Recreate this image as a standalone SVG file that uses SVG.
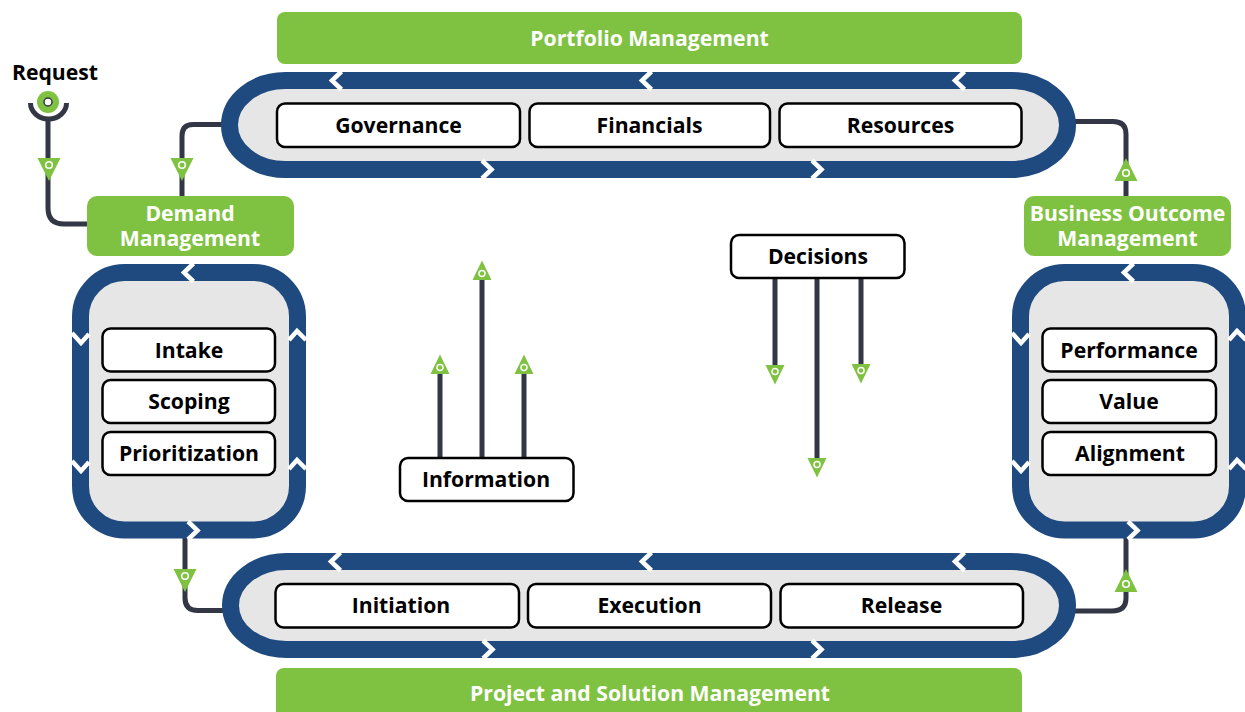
<svg xmlns="http://www.w3.org/2000/svg" width="1245" height="712" viewBox="0 0 1245 712">
<style>
text{font-family:"Open Sans","Noto Sans","Liberation Sans",sans-serif;font-weight:700;font-size:21.200px;text-anchor:middle}
.w{fill:#fff}
.k{fill:#000}
.g{fill:#7fc241}
.ring{fill:#e6e6e6;stroke:#1f4a7f;stroke-width:17}
.box{fill:#fff;stroke:#000;stroke-width:2.500}
.c{fill:none;stroke:#333644;stroke-width:5}
.link{fill:none;stroke:#77787f;stroke-width:5}
.chev{fill:none;stroke:#fff;stroke-width:4.500}
</style>
<defs>
<g id="dn"><path d="M-11.500 0H11.500L0 23Z" fill="#7fc241"/><circle cx="0" cy="7" r="3.300" fill="none" stroke="#fff" stroke-width="1.600"/></g>
<g id="up"><path d="M-11.500 0H11.500L0 -23Z" fill="#7fc241"/><circle cx="0" cy="-8" r="3.300" fill="none" stroke="#fff" stroke-width="1.600"/></g>
<g id="dns"><path d="M-9.500 0H9.500L0 19.500Z" fill="#7fc241"/><circle cx="0" cy="6.500" r="3" fill="none" stroke="#fff" stroke-width="1.500"/></g>
<g id="ups"><path d="M-9.500 0H9.500L0 -19.500Z" fill="#7fc241"/><circle cx="0" cy="-6.500" r="3" fill="none" stroke="#fff" stroke-width="1.500"/></g>
<path id="chL" d="M10.500 -0.500L1 8.500L10.500 17.500" class="chev"/>
<path id="chR" d="M0 -0.500L9.500 8.500L0 17.500" class="chev"/>
<path id="chD" d="M0 0L9 10L17 1" class="chev"/>
<path id="chU" d="M0 11L8 2L17 11" class="chev"/>
</defs>
<g id="connectors">
<path class="c" d="M48 118V208Q48 224 64 224H88"/>
<path class="c" d="M222 124.500H193Q182 124.500 182 136V197"/>
<path class="c" d="M185 538V598Q185 610.500 198 610.500H223"/>
<path class="c" d="M1075 121.500H1113Q1126 121.500 1126 134V197"/>
<path class="c" d="M1126 538V598Q1126 611 1112 611H1075"/>
<path class="c" d="M440 458V372M482 458V278M524 458V372M775 278V367M817 278V460M861 278V366"/>
<path class="link" d="M520 125H529M770 125H779M519 607H528M771 607H780"/>
<use href="#dn" x="49" y="158"/><use href="#dn" x="182" y="158"/><use href="#dn" x="185" y="569"/>
<use href="#up" x="1126" y="181"/><use href="#up" x="1126" y="592"/>
<use href="#ups" x="440" y="374"/><use href="#ups" x="482" y="280"/><use href="#ups" x="524" y="374"/>
<use href="#dns" x="775" y="365"/><use href="#dns" x="817" y="458"/><use href="#dns" x="861" y="364"/>
</g>
<g id="request">
<text class="k" x="55" y="80">Request</text>
<path d="M30.500 103A18 16 0 0 0 66.500 103" fill="none" stroke="#333644" stroke-width="5"/>
<circle cx="48" cy="102" r="11" class="g"/><circle cx="48" cy="102" r="4" fill="#fff" stroke="#333644" stroke-width="1.500"/>
</g>
<g id="portfolio-management"><rect class="g" x="277" y="12" width="745" height="52" rx="8"/><text class="w" x="649.500" y="46">Portfolio Management</text></g>
<g id="project-solution-management"><rect class="g" x="276" y="668" width="746" height="60" rx="8"/><text class="w" x="650" y="701">Project and Solution Management</text></g>
<g id="demand-management"><rect class="g" x="87" y="196" width="207" height="60" rx="10"/><text class="w"><tspan x="190" y="221">Demand</tspan><tspan x="190" y="246">Management</tspan></text></g>
<g id="business-outcome-management"><rect class="g" x="1024" y="196" width="207" height="60" rx="10"/><text class="w"><tspan x="1127.500" y="221">Business Outcome</tspan><tspan x="1127.500" y="246">Management</tspan></text></g>
<g id="portfolio-ring">
<rect class="ring" x="229.500" y="80.500" width="838" height="89" rx="56" ry="44.500"/>
<use href="#chL" x="331" y="72"/><use href="#chL" x="641" y="72"/><use href="#chL" x="954" y="72"/>
<use href="#chR" x="482" y="161"/><use href="#chR" x="812" y="161"/>
</g>
<g id="project-ring">
<rect class="ring" x="230.500" y="561.500" width="837" height="88" rx="56" ry="44"/>
<use href="#chL" x="330" y="553"/><use href="#chL" x="641" y="553"/><use href="#chL" x="954" y="553"/>
<use href="#chR" x="483" y="641"/><use href="#chR" x="812" y="641"/>
</g>
<g id="demand-ring">
<rect class="ring" x="80.500" y="272.500" width="217" height="257.500" rx="44"/>
<use href="#chL" x="183" y="264"/><use href="#chR" x="188" y="522"/>
<use href="#chD" x="72" y="333"/><use href="#chD" x="72" y="461"/>
<use href="#chU" x="289" y="329"/><use href="#chU" x="289" y="458"/>
</g>
<g id="outcome-ring">
<rect class="ring" x="1020.500" y="272.500" width="217" height="257.500" rx="44"/>
<use href="#chL" x="1123" y="264"/><use href="#chR" x="1128" y="522"/>
<use href="#chD" x="1012" y="333"/><use href="#chD" x="1012" y="461"/>
<use href="#chU" x="1229" y="329"/><use href="#chU" x="1229" y="458"/>
</g>
<g id="governance"><rect class="box" x="277" y="103.500" width="243" height="43.500" rx="8"/><text class="k" x="398.500" y="133">Governance</text></g>
<g id="financials"><rect class="box" x="529.500" y="103.500" width="240.500" height="43.500" rx="8"/><text class="k" x="649.500" y="133">Financials</text></g>
<g id="resources"><rect class="box" x="779.500" y="103.500" width="242" height="43.500" rx="8"/><text class="k" x="900.500" y="133">Resources</text></g>
<g id="initiation"><rect class="box" x="275.500" y="584" width="243.500" height="43.500" rx="8"/><text class="k" x="401" y="613">Initiation</text></g>
<g id="execution"><rect class="box" x="528" y="584" width="243" height="43.500" rx="8"/><text class="k" x="649.500" y="613">Execution</text></g>
<g id="release"><rect class="box" x="780.500" y="584" width="242.500" height="43.500" rx="8"/><text class="k" x="901.500" y="613">Release</text></g>
<g id="intake"><rect class="box" x="102.500" y="328.500" width="172.500" height="43" rx="8"/><text class="k" x="189" y="358">Intake</text></g>
<g id="scoping"><rect class="box" x="102.500" y="380" width="172.500" height="43" rx="8"/><text class="k" x="189" y="409">Scoping</text></g>
<g id="prioritization"><rect class="box" x="102.500" y="432" width="172.500" height="43" rx="8"/><text class="k" x="189" y="461">Prioritization</text></g>
<g id="performance"><rect class="box" x="1042.500" y="328.500" width="173.500" height="43" rx="8"/><text class="k" x="1129" y="358">Performance</text></g>
<g id="value"><rect class="box" x="1042.500" y="380" width="173.500" height="43" rx="8"/><text class="k" x="1129" y="409">Value</text></g>
<g id="alignment"><rect class="box" x="1042.500" y="432" width="173.500" height="43" rx="8"/><text class="k" x="1130" y="461">Alignment</text></g>
<g id="information"><rect class="box" x="400" y="458" width="173.500" height="43" rx="8"/><text class="k" x="486" y="487">Information</text></g>
<g id="decisions"><rect class="box" x="731" y="235" width="173.500" height="43" rx="8"/><text class="k" x="818" y="264">Decisions</text></g>
</svg>
